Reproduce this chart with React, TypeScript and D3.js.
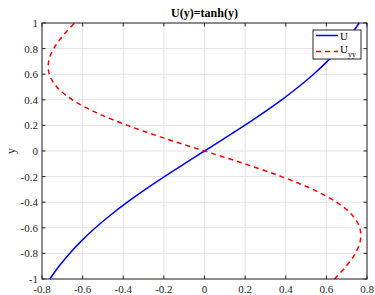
import React from 'react'
import { scaleLinear, line, curveCatmullRom } from 'd3'

// sampled profile, y from -1 to 1 step 0.1
const yVals = [-1, -0.9, -0.8, -0.7, -0.6, -0.5, -0.4, -0.3, -0.2, -0.1, 0,
    0.1, 0.2, 0.3, 0.4, 0.5, 0.6, 0.7, 0.8, 0.9, 1]
const uVals = [-0.7616, -0.7163, -0.664, -0.6044, -0.537, -0.4621, -0.3799, -0.2913, -0.1974, -0.0997, 0,
    0.0997, 0.1974, 0.2913, 0.3799, 0.4621, 0.537, 0.6044, 0.664, 0.7163, 0.7616]
const uyyVals = [0.6397, 0.6975, 0.7425, 0.7672, 0.7643, 0.7268, 0.6502, 0.5332, 0.3794, 0.1974, 0,
    -0.1974, -0.3794, -0.5332, -0.6502, -0.7268, -0.7643, -0.7672, -0.7425, -0.6975, -0.6397]

const xTicks = [-0.8, -0.6, -0.4, -0.2, 0, 0.2, 0.4, 0.6, 0.8]
const yTicks = [-1, -0.8, -0.6, -0.4, -0.2, 0, 0.2, 0.4, 0.6, 0.8, 1]

const margin = { top: 23, right: 8, bottom: 16, left: 42 },
    width = 375, height = 295

const font = '"Liberation Serif", "Times New Roman", serif'

export default function App() {
    const x = scaleLinear().domain([-0.8, 0.8]).range([margin.left, width - margin.right])
    const y = scaleLinear().domain([-1, 1]).range([height - margin.bottom, margin.top])

    const gen = line<number>()
        .x((d) => x(d))
        .y((_, i) => y(yVals[i]))
        .curve(curveCatmullRom)

    const x0 = margin.left, x1 = width - margin.right
    const y0 = margin.top, y1 = height - margin.bottom
    const tk = 3.5

    return (
        <svg width={width} height={height} style={{ position: 'absolute', left: 0, top: 0, background: '#fff' }}>
            <rect x={0} y={0} width={width} height={height} fill="#fff" />
            {/* grid */}
            {xTicks.map((t) => (
                <line key={'gx' + t} x1={x(t)} x2={x(t)} y1={y0} y2={y1} stroke="#e3e3e3" strokeWidth={1} />
            ))}
            {yTicks.map((t) => (
                <line key={'gy' + t} x1={x0} x2={x1} y1={y(t)} y2={y(t)} stroke="#e3e3e3" strokeWidth={1} />
            ))}
            {/* curves */}
            <path d={gen(uVals) ?? ''} fill="none" stroke="#0000ff" strokeWidth={1.5} />
            <path d={gen(uyyVals) ?? ''} fill="none" stroke="#ff0000" strokeWidth={1.5} strokeDasharray="5,4" />
            {/* ticks */}
            {xTicks.map((t) => (
                <g key={'tx' + t}>
                    <line x1={x(t)} x2={x(t)} y1={y1} y2={y1 - tk} stroke="#262626" />
                    <line x1={x(t)} x2={x(t)} y1={y0} y2={y0 + tk} stroke="#262626" />
                    <text x={x(t)} y={y1 + 14} textAnchor="middle" fontFamily={font} fontSize={11} fill="#262626">{t}</text>
                </g>
            ))}
            {yTicks.map((t) => (
                <g key={'ty' + t}>
                    <line x1={x0} x2={x0 + tk} y1={y(t)} y2={y(t)} stroke="#262626" />
                    <line x1={x1} x2={x1 - tk} y1={y(t)} y2={y(t)} stroke="#262626" />
                    <text x={x0 - 4} y={y(t) + 4} textAnchor="end" fontFamily={font} fontSize={11} fill="#262626">{t}</text>
                </g>
            ))}
            <rect x={x0} y={y0} width={x1 - x0} height={y1 - y0} fill="none" stroke="#262626" strokeWidth={1} />
            {/* labels */}
            <text x={(x0 + x1) / 2} y={17} textAnchor="middle" fontFamily={font} fontSize={12} fontWeight="bold" fill="#000">U(y)=tanh(y)</text>
            <text transform={`translate(15,${(y0 + y1) / 2}) rotate(-90)`} textAnchor="middle" fontFamily={font} fontSize={12} fill="#262626">y</text>
            {/* legend */}
            <g>
                <rect x={313} y={30} width={48} height={29} fill="#fff" stroke="#262626" strokeWidth={1} />
                <line x1={316} x2={338} y1={35.5} y2={35.5} stroke="#0000ff" strokeWidth={1.5} />
                <text x={340} y={39.5} fontFamily={font} fontSize={11} fill="#000">U</text>
                <line x1={316} x2={338} y1={51.5} y2={51.5} stroke="#ff0000" strokeWidth={1.5} strokeDasharray="5,4" />
                <text x={340} y={52.5} fontFamily={font} fontSize={11} fill="#000">U<tspan fontSize={8} dy={4}>yy</tspan></text>
            </g>
        </svg>
    )
}
